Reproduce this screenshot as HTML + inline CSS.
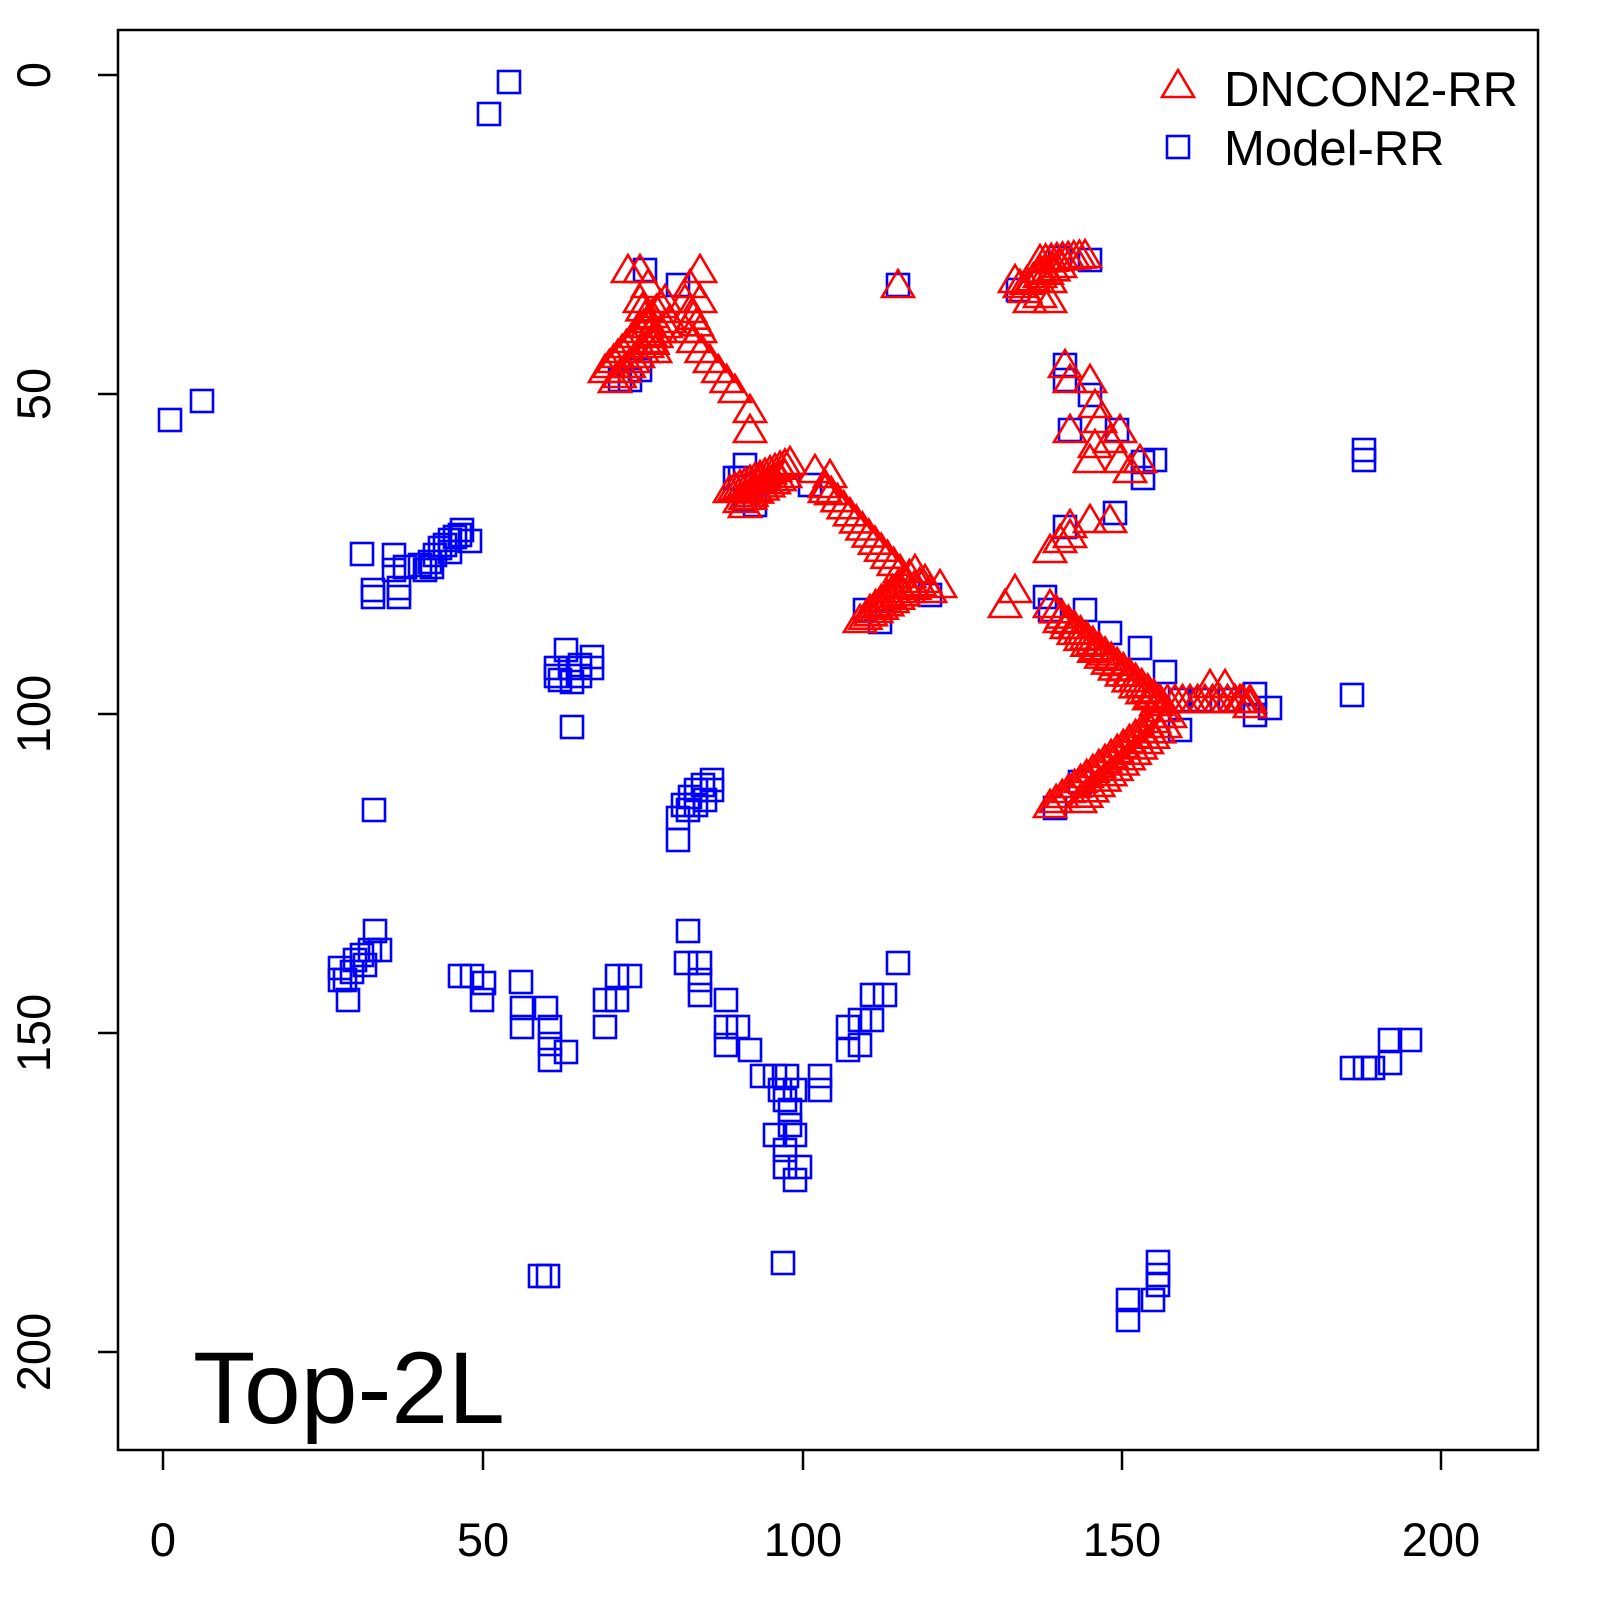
<!DOCTYPE html>
<html><head><meta charset="utf-8"><style>
html,body{margin:0;padding:0;background:#fff}
svg{display:block}
text{font-family:"Liberation Sans",sans-serif}
</style></head><body>
<svg id="s" width="1600" height="1600" viewBox="0 0 1600 1600" xmlns="http://www.w3.org/2000/svg">
<rect x="0" y="0" width="1600" height="1600" fill="#fff"/>
<g id="sq" fill="none" stroke="#0000ff" stroke-width="2.6"></g>
<g id="tr" fill="none" stroke="#ff0000" stroke-width="2.6" stroke-linejoin="miter"></g>
<rect x="118" y="30" width="1420" height="1420" fill="none" stroke="#000" stroke-width="2.5"/>
<g stroke="#000" stroke-width="2.5">
<line x1="163" y1="1450" x2="163" y2="1470"/><line x1="483" y1="1450" x2="483" y2="1470"/><line x1="803" y1="1450" x2="803" y2="1470"/><line x1="1122" y1="1450" x2="1122" y2="1470"/><line x1="1441" y1="1450" x2="1441" y2="1470"/>
<line x1="118" y1="75" x2="98" y2="75"/><line x1="118" y1="394" x2="98" y2="394"/><line x1="118" y1="714" x2="98" y2="714"/><line x1="118" y1="1033" x2="98" y2="1033"/><line x1="118" y1="1352" x2="98" y2="1352"/>
</g>
<g font-size="47" text-anchor="middle" fill="#000">
<text x="163" y="1556">0</text><text x="483" y="1556">50</text><text x="803" y="1556">100</text><text x="1122" y="1556">150</text><text x="1441" y="1556">200</text>
<text transform="translate(50,75) rotate(-90)">0</text>
<text transform="translate(50,394) rotate(-90)">50</text>
<text transform="translate(50,714) rotate(-90)">100</text>
<text transform="translate(50,1033) rotate(-90)">150</text>
<text transform="translate(50,1352) rotate(-90)">200</text>
</g>
<polygon points="1178,70 1194,97 1162,97" fill="none" stroke="#ff0000" stroke-width="2.6"/>
<rect x="1167" y="136" width="22" height="22" fill="none" stroke="#0000ff" stroke-width="2.6"/>
<text x="1224" y="106" font-size="49">DNCON2-RR</text>
<text x="1224" y="165" font-size="49">Model-RR</text>
<text x="193" y="1423" font-size="102">Top-2L</text>
</svg>
<script>
var NS="http://www.w3.org/2000/svg";
var sq=document.getElementById('sq'),tr=document.getElementById('tr');
function S(x,y){var r=document.createElementNS(NS,'rect');r.setAttribute('x',x-11);r.setAttribute('y',y-11);r.setAttribute('width',22);r.setAttribute('height',22);sq.appendChild(r);}
function T(x,y){var p=document.createElementNS(NS,'polygon');p.setAttribute('points',(x)+','+(y-15)+' '+(x+16)+','+(y+12)+' '+(x-16)+','+(y+12));tr.appendChild(p);}
function line(f,x1,y1,x2,y2,n){for(var i=0;i<=n;i++){f(x1+(x2-x1)*i/n,y1+(y2-y1)*i/n);}}
var B=[[509,82],[489,114],[170,420],[202,401],[362,554],[373,597],[399,597],[373,590],[399,588],[394,555],[394,570],[405,567],[420,565],[430,562],[435,555],[440,548],[445,545],[450,540],[455,537],[460,535],[470,541],[462,530],[450,552],[425,570],[432,567],
[566,650],[556,668],[570,668],[580,665],[592,657],[592,668],[560,680],[572,682],[556,676],[580,676],[572,727],
[374,810],[678,818],[678,840],[683,805],[690,797],[696,790],[703,785],[712,780],[705,800],[688,810],[696,805],[712,790],
[375,931],[340,968],[345,980],[348,1000],[355,960],[362,955],[370,950],[380,950],[365,965],[340,980],[352,972],
[460,976],[472,976],[482,1000],[484,983],[521,982],[522,1008],[522,1027],[546,1008],[550,1027],[550,1044],[550,1060],[566,1052],[605,1000],[605,1027],[617,1000],[617,976],[630,976],
[688,931],[686,963],[700,963],[700,980],[700,995],[726,1000],[726,1027],[726,1045],[738,1027],[750,1050],[762,1076],[775,1076],[780,1090],[795,1090],[787,1076],[790,1110],[795,1135],[785,1150],[785,1167],[800,1167],[795,1180],[775,1135],[790,1125],[785,1100],[820,1076],[820,1090],[848,1027],[848,1050],[860,1045],[860,1020],[872,1020],[872,995],[885,995],[898,963],
[783,1263],[540,1276],[548,1276],[1128,1300],[1128,1320],[1153,1300],[1158,1285],[1158,1262],[1158,1275],
[1352,695],[1364,450],[1364,460],[1352,1068],[1365,1068],[1373,1068],[1390,1063],[1390,1040],[1410,1040],
[630,380],[640,370],[645,270],[678,285],[898,285],[1018,290],[1060,258],[1090,260],[1065,365],[1065,380],[1090,395],[1070,430],[1117,430],[1143,462],[1155,460],[1143,478],[1065,527],[1115,513],[1045,597],[1050,610],[1085,610],[1110,633],[1140,648],[1165,672],[1180,700],[1180,730],[1200,700],[1230,700],[1255,694],[1255,715],[1270,708],[1055,808],[1080,782],[745,465],[740,478],[745,500],[810,485],[865,610],[880,622],[930,595],[620,380],[735,478],[755,505]];
B.forEach(function(p){S(p[0],p[1]);});
var R=[[628,270],[640,270],[700,270],[648,285],[690,285],[685,300],[700,300],[898,285],[750,410],[750,430],[815,470],[830,475],[825,490],[940,585],[930,590],
[1015,280],[1025,290],[1040,295],[1050,280],[1030,300],[1050,300],[1040,270],
[1065,365],[1070,380],[1070,430],[1090,380],[1095,405],[1100,420],[1110,440],[1120,430],[1140,460],[1090,460],[1120,460],[1130,470],[1095,445],
[1050,550],[1060,540],[1070,525],[1090,520],[1110,520],[1070,535],[1005,605],[1015,590],[1210,685],[1225,685],[1240,700],[1250,705]];
R.forEach(function(p){T(p[0],p[1]);});
line(T,605,370,665,300,14);line(T,615,380,670,320,12);line(T,640,300,655,350,6);
line(T,685,330,735,390,6);line(T,690,310,700,330,3);
line(T,730,490,790,462,12);line(T,740,500,785,475,8);line(T,745,505,760,480,3);
line(T,825,485,900,570,12);line(T,860,620,925,580,12);line(T,870,610,915,570,8);
line(T,1040,260,1085,255,8);line(T,1020,285,1060,265,6);
line(T,1050,605,1160,700,18);line(T,1060,620,1170,715,16);line(T,1160,700,1250,700,12);
line(T,1050,805,1160,715,18);line(T,1080,800,1165,725,14);
</script>
</body></html>
